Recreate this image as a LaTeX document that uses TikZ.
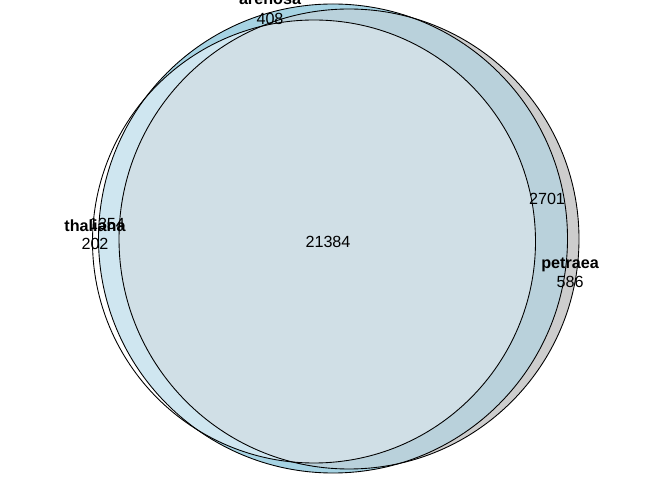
\documentclass[tikz,border=0pt]{standalone}
\usepackage{fontspec}
\setmainfont{Liberation Sans}
\usepackage{tikz}
\usetikzlibrary{calc}
\definecolor{aOnly}{HTML}{A6D3E3}
\definecolor{pOnly}{HTML}{CDCDCD}
\definecolor{apCol}{HTML}{B9D1DB}
\definecolor{taCol}{HTML}{CFE6F0}
\definecolor{tpCol}{HTML}{D6DDE1}
\definecolor{tapCol}{HTML}{D0DFE6}
\tikzstyle{rim}=[draw=black, line width=0.5pt]
\tikzstyle{count}=[inner sep=0pt, font=\fontsize{9.2}{11}\selectfont]
\tikzstyle{setname}=[inner sep=0pt, font=\fontsize{9.2}{11}\selectfont\bfseries]
\newcommand{\circT}{(314,238.5) circle (221.5)}
\newcommand{\circA}{(333,241.5) circle (234.5)}
\newcommand{\circP}{(349,241) circle (230)}

\begin{document}
\begin{tikzpicture}[x=0.02cm, y=0.02cm]
      \useasboundingbox (0,0) rectangle (672,480);
      % region fills
      \fill[aOnly] \circA;
      \fill[pOnly] \circP;
      \begin{scope}
        \clip \circA;
        \fill[apCol] \circP;
      \end{scope}
      \fill[white] \circT;
      \begin{scope}
        \clip \circT;
        \fill[taCol] \circA;
        \fill[tpCol] \circP;
        \clip \circA;
        \fill[tapCol] \circP;
      \end{scope}
      % outlines
      \draw[rim] \circT;
      \draw[rim] \circA;
      \draw[rim] \circP;
      % counts
      \node(nTA) [count] at (107, 256){1354};
      \node(nT) [count] at (95, 236){202};
      \node(nA) [count] at (270, 461.5){408};
      \node(nAP) [count] at (547, 281){2701};
      \node(nP) [count] at (570, 198){586};
      \node(nTAP) [count] at (328, 238){21384};
      % set names
      \node(lT) [setname] at (95, 254){thaliana};
      \node(lA) [setname] at (270, 480){arenosa};
      \node(lP) [setname] at (570, 215){petraea};
    \end{tikzpicture}
\end{document}
